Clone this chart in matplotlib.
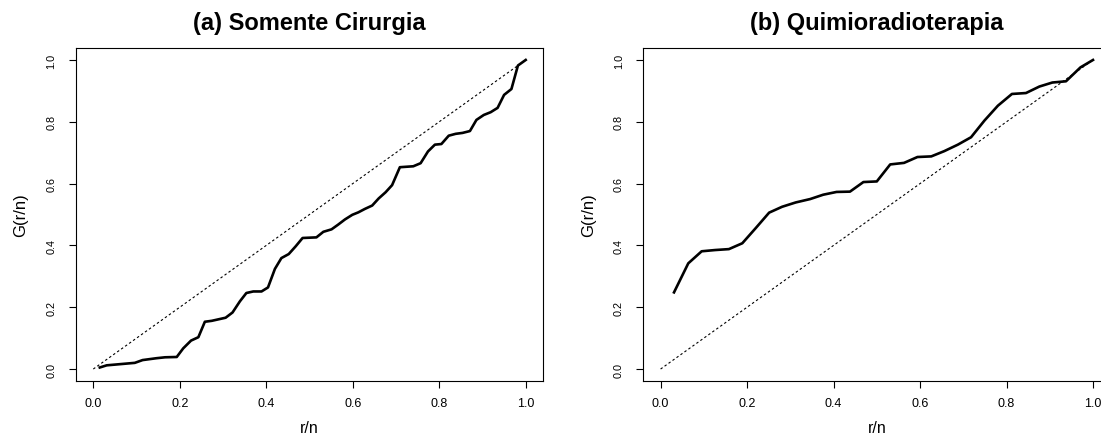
import matplotlib
matplotlib.use("Agg")
import matplotlib.pyplot as plt

plt.rcParams["font.family"] = ["Liberation Sans", "DejaVu Sans"]

# (a) Somente Cirurgia - TTT curve
rn_a = [0.015, 0.031, 0.096, 0.114, 0.146, 0.166, 0.193, 0.208, 0.226, 0.243,
        0.258, 0.274, 0.306, 0.322, 0.339, 0.354, 0.370, 0.389, 0.404, 0.420,
        0.435, 0.452, 0.468, 0.484, 0.516, 0.532, 0.551, 0.566, 0.582, 0.599,
        0.613, 0.628, 0.645, 0.660, 0.676, 0.691, 0.709, 0.740, 0.757, 0.774,
        0.790, 0.805, 0.822, 0.838, 0.854, 0.871, 0.886, 0.903, 0.919, 0.935,
        0.950, 0.967, 0.982, 1.000]
g_a = [0.005, 0.012, 0.020, 0.029, 0.035, 0.038, 0.039, 0.067, 0.092, 0.103,
       0.153, 0.156, 0.166, 0.183, 0.219, 0.246, 0.251, 0.251, 0.264, 0.324,
       0.359, 0.372, 0.397, 0.424, 0.426, 0.444, 0.452, 0.467, 0.484, 0.499,
       0.507, 0.518, 0.529, 0.552, 0.572, 0.595, 0.653, 0.656, 0.666, 0.704,
       0.726, 0.728, 0.755, 0.761, 0.764, 0.770, 0.806, 0.822, 0.831, 0.845,
       0.887, 0.906, 0.982, 1.000]

# (b) Quimioradioterapia - TTT curve
rn_b = [0.031, 0.064, 0.095, 0.126, 0.158, 0.189, 0.220, 0.251, 0.281, 0.3125,
        0.346, 0.376, 0.407, 0.438, 0.469, 0.500, 0.531, 0.563, 0.594, 0.626,
        0.656, 0.6875, 0.718, 0.749, 0.780, 0.8125, 0.845, 0.876, 0.906, 0.9375,
        0.971, 1.000]
g_b = [0.248, 0.342, 0.381, 0.385, 0.388, 0.407, 0.456, 0.506, 0.525, 0.539,
       0.550, 0.564, 0.573, 0.574, 0.605, 0.607, 0.662, 0.667, 0.686, 0.688,
       0.705, 0.726, 0.750, 0.804, 0.852, 0.890, 0.893, 0.914, 0.927, 0.931,
       0.976, 1.000]

ticks = [0.0, 0.2, 0.4, 0.6, 0.8, 1.0]
tick_labels = ["0.0", "0.2", "0.4", "0.6", "0.8", "1.0"]

W, H = 1101, 439
fig = plt.figure(figsize=(W / 100, H / 100), dpi=100)

panels = [
    ("(a) Somente Cirurgia", rn_a, g_a, 76.0),
    ("(b) Quimioradioterapia", rn_b, g_b, 643.3),
]

for title, x, y, left in panels:
    ax = fig.add_axes([left / W, 56.6 / H, 467.0 / W, 333.8 / H])
    ax.plot([0, 1], [0, 1], color="black", lw=0.8, dashes=(2.2, 2.2))
    ax.plot(x, y, color="black", lw=1.9, solid_joinstyle="round")
    ax.set_xlim(-0.04, 1.04)
    ax.set_ylim(-0.04, 1.04)
    ax.set_xticks(ticks)
    ax.set_xticklabels(tick_labels, fontsize=9)
    ax.set_yticks(ticks)
    ax.set_yticklabels(tick_labels, fontsize=7.8, rotation=90, va="center")
    ax.tick_params(direction="out", length=5, width=0.8)
    ax.tick_params(axis="x", pad=6)
    ax.tick_params(axis="y", pad=9)
    for s in ax.spines.values():
        s.set_linewidth(0.8)
    ax.set_xlabel("r/n", fontsize=11.5, labelpad=8.5)
    ax.set_ylabel("G(r/n)", fontsize=12, labelpad=13)
    ax.set_title(title, fontsize=17, fontweight="bold", pad=13.5)

fig.savefig("out.png", dpi=100)
